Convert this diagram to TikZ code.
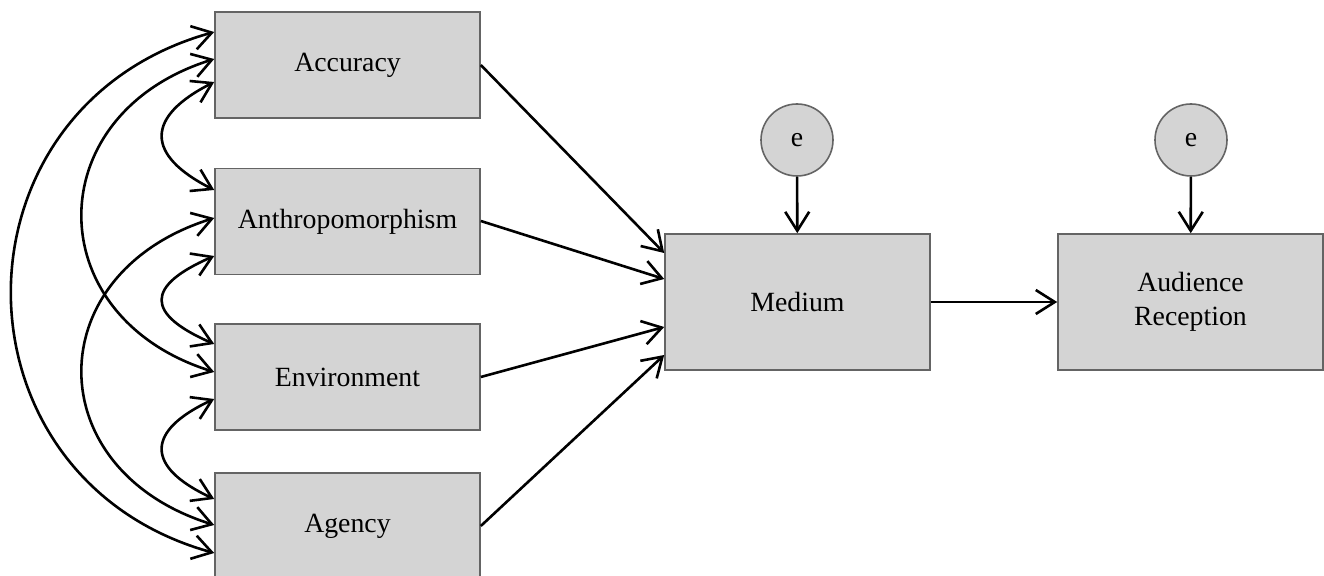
\documentclass[tikz,border=0pt]{standalone}
\usepackage{fontspec}
\setmainfont{Liberation Serif}
\usetikzlibrary{arrows.meta}
\definecolor{boxfill}{RGB}{212,212,212}
\definecolor{boxline}{RGB}{100,100,100}
\begin{document}
\begin{tikzpicture}[x=0.5pt,y=-0.5pt,
  varbox/.style={draw=boxline,line width=0.8pt,fill=boxfill,inner sep=0pt,
    minimum width=132.5pt,minimum height=53pt,align=center,
    font=\fontsize{13.9}{17}\selectfont},
  bigbox/.style={varbox,minimum height=68pt},
  errc/.style={circle,draw=boxline,line width=0.8pt,fill=boxfill,inner sep=0pt,
    minimum size=36pt,font=\fontsize{13.9}{17}\selectfont},
  tip/.tip={Straight Barb[length=9.5pt,width=12pt,line width=1.3pt]},
  arr/.style={line width=1.3pt,-tip},
  biarr/.style={line width=1.3pt,tip-tip}]
\useasboundingbox (0,0) rectangle (1324,576);
\node[varbox] (acc) at (347.5,65) {\raisebox{-2pt}{Accuracy}};
\node[varbox] (anth) at (347.5,221.5) {Anthropomorphism};
\node[varbox] (env) at (347.5,377) {Environment};
\node[varbox] (ag) at (347.5,526) {Agency};
\node[bigbox] (med) at (797.5,302) {Medium};
\node[bigbox] (aud) at (1190.5,302) {Audience\\Reception};
\node[errc] (e1) at (797,140) {e};
\node[errc] (e2) at (1191,140) {e};
% left-side anchor points
\coordinate (acc1) at (acc.west |- 0,32);
\coordinate (acc2) at (acc.west |- 0,59);
\coordinate (acc3) at (acc.west |- 0,82);
\coordinate (anth1) at (anth.west |- 0,190);
\coordinate (anth2) at (anth.west |- 0,218);
\coordinate (anth3) at (anth.west |- 0,256);
\coordinate (env1) at (env.west |- 0,344);
\coordinate (env2) at (env.west |- 0,372);
\coordinate (env3) at (env.west |- 0,399);
\coordinate (ag1) at (ag.west |- 0,499);
\coordinate (ag2) at (ag.west |- 0,525);
\coordinate (ag3) at (ag.west |- 0,553);
% right-side points
\coordinate (accR) at (acc.east |- 0,65);
\coordinate (anthR) at (anth.east |- 0,221);
\coordinate (envR) at (env.east |- 0,377);
\coordinate (agR) at (ag.east |- 0,526);
\coordinate (med1) at (med.west |- 0,253);
\coordinate (med2) at (med.west |- 0,279);
\coordinate (med3) at (med.west |- 0,327);
\coordinate (med4) at (med.west |- 0,355);
% covariances
\draw[biarr] (acc3) .. controls +(-69,35) and +(-69,-35) .. (anth1);
\draw[biarr] (anth3) .. controls +(-69,30) and +(-69,-30) .. (env1);
\draw[biarr] (env3) .. controls +(-69,32) and +(-69,-32) .. (ag1);
\draw[biarr] (acc2) .. controls +(-176,55) and +(-176,-55) .. (env2);
\draw[biarr] (anth2) .. controls +(-176,55) and +(-176,-55) .. (ag2);
\draw[biarr] (acc1) .. controls +(-270,75) and +(-270,-75) .. (ag3);
% paths
\draw[arr] (accR) -- (med1);
\draw[arr] (anthR) -- (med2);
\draw[arr] (envR) -- (med3);
\draw[arr] (agR) -- (med4);
\draw[arr] (med) -- (aud);
\draw[arr] (e1) -- (med);
\draw[arr] (e2) -- (aud);
\end{tikzpicture}
\end{document}
